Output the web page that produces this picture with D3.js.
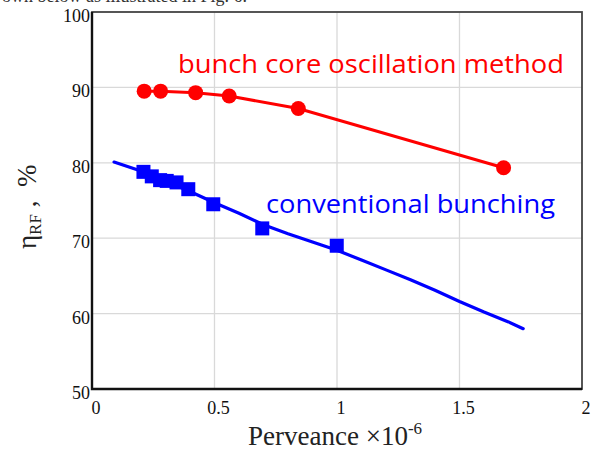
<!DOCTYPE html>
<html>
<head>
    <meta charset="utf-8" />
    <title>Efficiency vs perveance</title>
    <script src="https://cdn.jsdelivr.net/npm/d3@7"></script>
    <style>
        body { margin: 0; background: #fff; }
        svg { display: block; }
    </style>
</head>
<body>
    <script type="text/javascript">

        // Width and height
        var w = 593;
        var h = 458;
        var margin = { top: 12, right: 11, bottom: 69, left: 92 };

        // data
        var xTicks = [0, 0.5, 1, 1.5, 2];
        var yTicks = [50, 60, 70, 80, 90, 100];

        // bunch core oscillation method (red circles + line)
        var coreX = [0.213, 0.28, 0.423, 0.56, 0.842, 1.68];
        var coreY = [89.5, 89.5, 89.3, 88.85, 87.2, 79.35];

        // conventional bunching (blue squares)
        var convX = [0.21, 0.244, 0.278, 0.305, 0.345, 0.393, 0.495, 0.695, 0.999];
        var convY = [78.8, 78.2, 77.7, 77.6, 77.4, 76.5, 74.5, 71.3, 69.0];

        // conventional bunching simulation curve (blue line)
        var curveX = [0.09, 0.2, 0.3, 0.4, 0.5, 0.6, 0.7, 0.8, 0.9, 1.0, 1.1, 1.2, 1.3, 1.4, 1.5, 1.6, 1.7, 1.76];
        var curveY = [80.1, 78.9, 77.6, 76.2, 74.7, 73.3, 71.8, 70.6, 69.5, 68.4, 67.1, 65.8, 64.5, 63.1, 61.6, 60.2, 58.9, 58.0];

        var xScale = d3.scaleLinear().domain([0, 2]).range([margin.left, w - margin.right]);
        var yScale = d3.scaleLinear().domain([50, 100]).range([h - margin.bottom, margin.top]);

        var svg = d3.select("body")
                    .append("svg")
                    .attr("width", w)
                    .attr("height", h);

        // cut-off line of the page text above the figure
        svg.append("text")
            .attr("x", 2)
            .attr("y", 1.5)
            .attr("font-family", "Liberation Serif, serif")
            .attr("font-size", "18px")
            .attr("fill", "#333")
            .text("own below as illustrated in Fig. 6.");

        // grid lines
        svg.selectAll("line.gx")
            .data(xTicks.slice(1, -1))
            .enter()
            .append("line")
            .attr("class", "gx")
            .attr("x1", function (d) { return xScale(d); })
            .attr("x2", function (d) { return xScale(d); })
            .attr("y1", yScale(50))
            .attr("y2", yScale(100))
            .attr("stroke", "#d9d9d9")
            .attr("stroke-width", 1.3);

        svg.selectAll("line.gy")
            .data(yTicks.slice(1, -1))
            .enter()
            .append("line")
            .attr("class", "gy")
            .attr("x1", xScale(0))
            .attr("x2", xScale(2))
            .attr("y1", function (d) { return yScale(d); })
            .attr("y2", function (d) { return yScale(d); })
            .attr("stroke", "#d9d9d9")
            .attr("stroke-width", 1.3);

        // frame
        svg.append("rect")
            .attr("x", xScale(0))
            .attr("y", yScale(100))
            .attr("width", xScale(2) - xScale(0))
            .attr("height", yScale(50) - yScale(100))
            .attr("fill", "none")
            .attr("stroke", "#444")
            .attr("stroke-width", 1.8);

        svg.append("path")
            .attr("d", "M" + xScale(0) + "," + yScale(100) + "V" + yScale(50) + "H" + xScale(2))
            .attr("fill", "none")
            .attr("stroke", "#111")
            .attr("stroke-width", 2.4);

        // tick labels
        svg.selectAll("text.xt")
            .data(xTicks)
            .enter()
            .append("text")
            .attr("class", "xt")
            .attr("x", function (d) { return xScale(d) + 4; })
            .attr("y", yScale(50) + 25)
            .attr("text-anchor", "middle")
            .attr("font-family", "Liberation Serif, serif")
            .attr("font-size", "18px")
            .attr("fill", "#111")
            .text(function (d) { return d; });

        svg.selectAll("text.yt")
            .data(yTicks)
            .enter()
            .append("text")
            .attr("class", "yt")
            .attr("x", xScale(0) - 2)
            .attr("y", function (d) { return yScale(d) + 10; })
            .attr("text-anchor", "end")
            .attr("font-family", "Liberation Serif, serif")
            .attr("font-size", "18px")
            .attr("fill", "#111")
            .text(function (d) { return d; });

        // axis titles
        var xt = svg.append("text")
            .attr("x", 248)
            .attr("y", 445)
            .attr("font-family", "Liberation Serif, serif")
            .attr("font-size", "27px")
            .attr("fill", "#222");
        xt.append("tspan").text("Perveance \u00d710");
        xt.append("tspan").attr("dy", -11).attr("font-size", "17px").text("-6");

        var yt = svg.append("text")
            .attr("transform", "translate(36,249) rotate(-90)")
            .attr("font-family", "Liberation Serif, serif")
            .attr("font-size", "27px")
            .attr("fill", "#222");
        yt.append("tspan").text("\u03b7");
        yt.append("tspan").attr("dy", 5).attr("font-size", "17px").text("RF");
        yt.append("tspan").attr("dy", -5).text("\u00a0,\u00a0\u00a0%");

        // blue curve
        var line = d3.line()
            .x(function (d) { return xScale(d[0]); })
            .y(function (d) { return yScale(d[1]); });

        svg.append("path")
            .datum(d3.zip(curveX, curveY))
            .attr("d", line)
            .attr("fill", "none")
            .attr("stroke", "#0000ff")
            .attr("stroke-width", 3.2)
            .attr("stroke-linejoin", "round")
            .attr("stroke-linecap", "round");

        // blue squares
        var sq = 14;
        svg.selectAll("rect.conv")
            .data(d3.zip(convX, convY))
            .enter()
            .append("rect")
            .attr("class", "conv")
            .attr("x", function (d) { return xScale(d[0]) - sq / 2; })
            .attr("y", function (d) { return yScale(d[1]) - sq / 2; })
            .attr("width", sq)
            .attr("height", sq)
            .attr("fill", "#0000ff");

        // red line + circles
        svg.append("path")
            .datum(d3.zip(coreX, coreY))
            .attr("d", line)
            .attr("fill", "none")
            .attr("stroke", "#ff0000")
            .attr("stroke-width", 3);

        svg.selectAll("circle.core")
            .data(d3.zip(coreX, coreY))
            .enter()
            .append("circle")
            .attr("class", "core")
            .attr("cx", function (d) { return xScale(d[0]); })
            .attr("cy", function (d) { return yScale(d[1]); })
            .attr("r", 7.5)
            .attr("fill", "#ff0000");

        // series labels
        svg.append("text")
            .attr("x", 178)
            .attr("y", 73)
            .attr("font-family", "Open Sans, sans-serif")
            .attr("font-size", "25px")
            .attr("textLength", 386)
            .attr("lengthAdjust", "spacingAndGlyphs")
            .attr("fill", "#ff0000")
            .text("bunch core oscillation method");

        svg.append("text")
            .attr("x", 266)
            .attr("y", 213)
            .attr("font-family", "Open Sans, sans-serif")
            .attr("font-size", "25px")
            .attr("textLength", 289)
            .attr("lengthAdjust", "spacingAndGlyphs")
            .attr("fill", "#0000ff")
            .text("conventional bunching");

    </script>
</body>
</html>
